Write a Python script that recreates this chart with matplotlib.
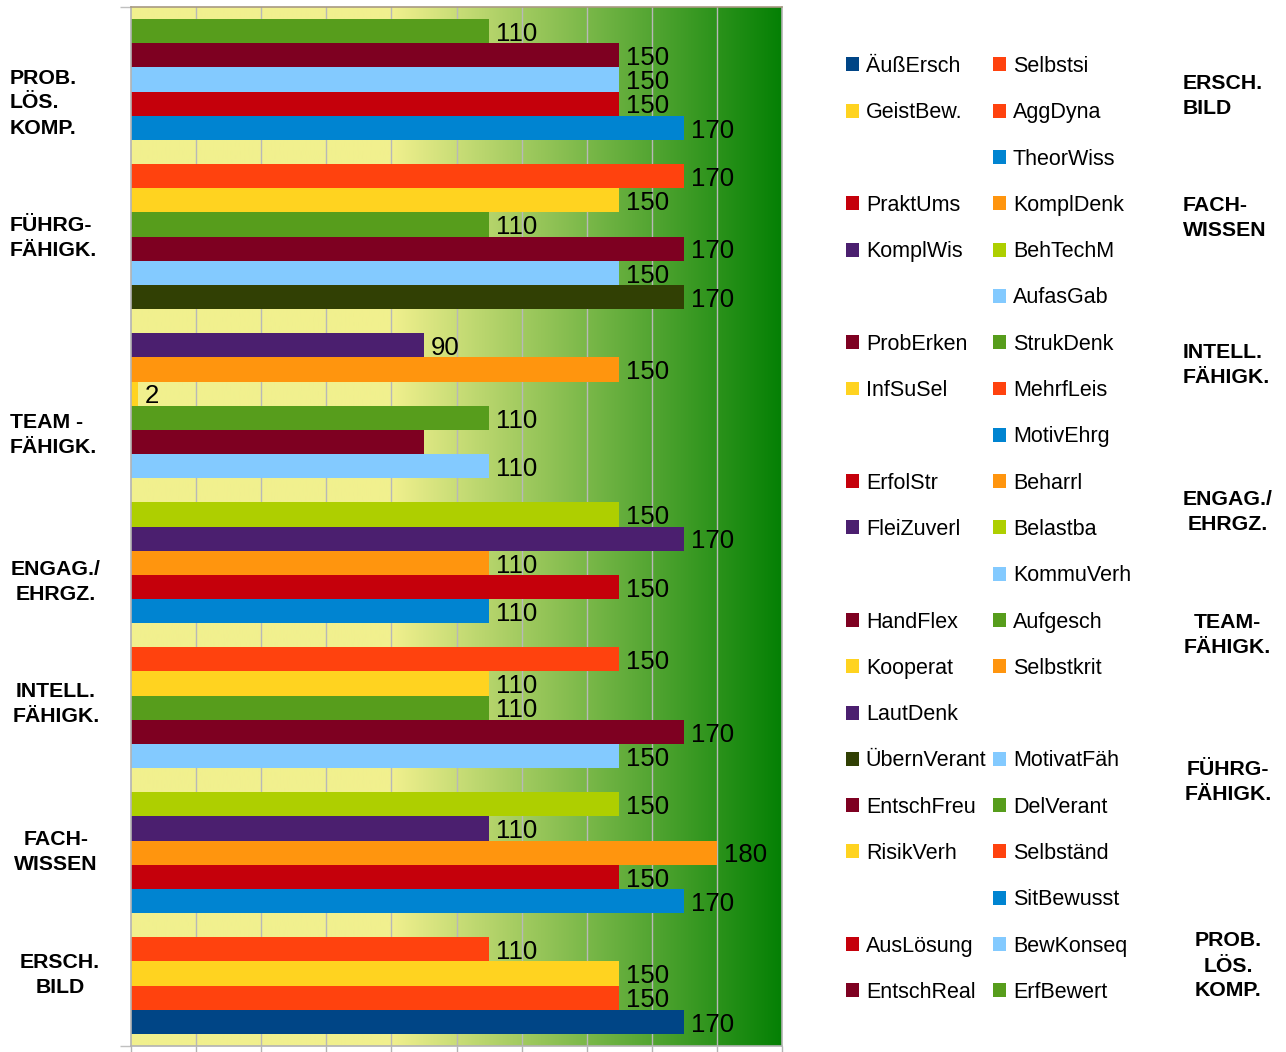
import numpy as np
import matplotlib
matplotlib.use("Agg")
import matplotlib.pyplot as plt
from matplotlib.patches import Patch
from matplotlib import font_manager

# ---------------- data ----------------
groups = ["ERSCH.\nBILD", "FACH-\nWISSEN", "INTELL.\nFÄHIGK.", "ENGAG./\nEHRGZ.",
          "TEAM -\nFÄHIGK.", "FÜHRG-\nFÄHIGK.", "PROB.\nLÖS.\nKOMP."]
group_sizes = [4, 5, 5, 5, 6, 6, 5]

series = ["ÄußErsch", "Selbstsi", "GeistBew.", "AggDyna",
          "TheorWiss", "PraktUms", "KomplDenk", "KomplWis", "BehTechM",
          "AufasGab", "ProbErken", "StrukDenk", "InfSuSel", "MehrfLeis",
          "MotivEhrg", "ErfolStr", "Beharrl", "FleiZuverl", "Belastba",
          "KommuVerh", "HandFlex", "Aufgesch", "Kooperat", "Selbstkrit", "LautDenk",
          "ÜbernVerant", "MotivatFäh", "EntschFreu", "DelVerant", "RisikVerh", "Selbständ",
          "SitBewusst", "AusLösung", "BewKonseq", "EntschReal", "ErfBewert"]
values = [170, 150, 150, 110,
          170, 150, 180, 110, 150,
          150, 170, 110, 110, 150,
          110, 150, 110, 170, 150,
          110, 90, 110, 2, 150, 90,
          170, 150, 170, 110, 150, 170,
          170, 150, 150, 150, 110]
colors = ["#004586", "#ff420e", "#ffd320", "#ff420e",
          "#0084d1", "#c5000b", "#ff950e", "#4b1f6f", "#aecf00",
          "#83caff", "#7e0021", "#579d1c", "#ffd320", "#ff420e",
          "#0084d1", "#c5000b", "#ff950e", "#4b1f6f", "#aecf00",
          "#83caff", "#7e0021", "#579d1c", "#ffd320", "#ff950e", "#4b1f6f",
          "#314004", "#83caff", "#7e0021", "#579d1c", "#ffd320", "#ff420e",
          "#0084d1", "#c5000b", "#83caff", "#7e0021", "#579d1c"]
show_value = [True] * 36
show_value[series.index("HandFlex")] = False

legend_left = ["ÄußErsch", "GeistBew.", None, "PraktUms", "KomplWis", None,
               "ProbErken", "InfSuSel", None, "ErfolStr", "FleiZuverl", None,
               "HandFlex", "Kooperat", "LautDenk", "ÜbernVerant", "EntschFreu",
               "RisikVerh", None, "AusLösung", "EntschReal"]
legend_right = ["Selbstsi", "AggDyna", "TheorWiss", "KomplDenk", "BehTechM", "AufasGab",
                "StrukDenk", "MehrfLeis", "MotivEhrg", "Beharrl", "Belastba", "KommuVerh",
                "Aufgesch", "Selbstkrit", None, "MotivatFäh", "DelVerant", "Selbständ",
                "SitBewusst", "BewKonseq", "ErfBewert"]

right_labels = ["ERSCH.\nBILD", "FACH-\nWISSEN", "INTELL.\nFÄHIGK.", "ENGAG./\nEHRGZ.",
                "TEAM-\nFÄHIGK.", "FÜHRG-\nFÄHIGK.", "PROB.\nLÖS.\nKOMP."]

x_max = 200
x_step = 20

# ---------------- figure ----------------
W, H = 1286, 1052
fig = plt.figure(figsize=(W / 100, H / 100), dpi=100)
fig.patch.set_facecolor("white")

ax_l, ax_r, ax_t, ax_b = 131, 782, 7, 1046
ax = fig.add_axes([ax_l / W, 1 - ax_b / H, (ax_r - ax_l) / W, (ax_b - ax_t) / H])

# y positions: one slot per bar, one slot gap between groups, half slot at edges
ypos = []
pos = 0.5
for n in group_sizes:
    for _ in range(n):
        ypos.append(pos + 0.5)
        pos += 1
    pos += 1
y_top = pos - 1 + 0.5

# background gradient (yellow -> green)
xs = np.linspace(0, x_max, 800)
yel = np.array([241, 240, 142]) / 255
grn = np.array([4, 128, 4]) / 255
t = np.clip((xs - 80) / (x_max - 80), 0, 1)
grad = yel[None, :] * (1 - t[:, None]) + grn[None, :] * t[:, None]
ax.imshow(grad[None, :, :], extent=[0, x_max, 0, y_top], aspect="auto",
          interpolation="bilinear", zorder=0)

for gx in np.arange(x_step, x_max, x_step):
    ax.axvline(gx, color="#b8b8b8", lw=1.0, zorder=0.5)

ax.barh(ypos, values, height=1.0, color=colors, edgecolor="none", zorder=2)

narrow = any(f.name == "Liberation Sans Narrow" for f in font_manager.fontManager.ttflist)
if narrow:
    lab_font = dict(family="Liberation Sans Narrow", size=20)
else:
    lab_font = dict(family="Liberation Sans", size=18.5)

for y, v, s in zip(ypos, values, show_value):
    if s:
        ax.annotate(str(v), (v, y), xytext=(5, -2), textcoords="offset points",
                    ha="left", va="center", color="black", zorder=3, **lab_font)

ax.set_xlim(0, x_max)
ax.set_ylim(0, y_top)
ax.set_xticks(np.arange(0, x_max + 1, x_step))
ax.set_xticklabels([])
ax.set_yticks([0, y_top])
ax.set_yticklabels([])
ax.tick_params(axis="x", direction="out", length=5, width=1, color="#b3b3b3")
ax.tick_params(axis="y", direction="out", length=8, width=1, color="#c0c0c0")
for sp in ax.spines.values():
    sp.set_color("#b3b3b3")
    sp.set_linewidth(1.2)
ax.spines["top"].set_color("#a89a82")

# left group labels
bold = dict(family="Liberation Sans", weight="bold", size=15.3, linespacing=1.4)
left_pos = [(60, 975, "center"), (56, 852, "center"), (56, 704, "center"),
            (56, 582, "center"), (10, 435, "left"), (10, 238, "left"), (10, 103, "left")]
for lab, (px, py, ha) in zip(groups, left_pos):
    fig.text(px / W, 1 - py / H, lab, ha=ha, va="center", multialignment=ha, **bold)

# right labels
right_pos = [(1183, 96, "left"), (1183, 218, "left"), (1183, 365, "left"),
             (1228, 512, "center"), (1227, 635, "center"), (1228, 782, "center"),
             (1228, 966, "center")]
for lab, (px, py, ha) in zip(right_labels, right_pos):
    fig.text(px / W, 1 - py / H, lab, ha=ha, va="center", multialignment=ha, **bold)

# legends (two columns)
color_of = dict(zip(series, colors))


def make_legend(names, x_px, y_px):
    handles, labels = [], []
    for n in names:
        if n is None:
            handles.append(Patch(facecolor="none", edgecolor="none"))
            labels.append(" ")
        else:
            handles.append(Patch(facecolor=color_of[n], edgecolor="none"))
            labels.append(n)
    leg = fig.legend(handles, labels, loc="upper left",
                     bbox_to_anchor=(x_px / W, 1 - y_px / H),
                     frameon=False, borderpad=0, borderaxespad=0,
                     handlelength=0.62, handleheight=0.62, handletextpad=0.3,
                     labelspacing=1.175, prop=dict(family="Liberation Sans", size=15.5))
    return leg


make_legend(legend_left, 846, 56)
make_legend(legend_right, 993, 56)

fig.savefig("out.png", dpi=100)
